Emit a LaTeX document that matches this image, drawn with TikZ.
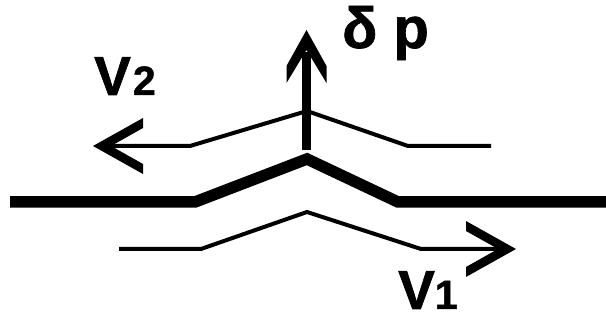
\documentclass[tikz,border=0pt]{standalone}
\usepackage{fontspec}
\setmainfont{Liberation Sans}[BoldFeatures={FakeBold=1.2}]
\tikzset{
  thinline/.style={line width=4pt, line join=miter, line cap=butt},
  thickline/.style={line width=11.5pt, line join=miter, line cap=butt},
  shaft/.style={line width=8.5pt, line cap=butt},
  chevh/.pic={\fill (0,0) -- (50,-28) -- (50,-18) -- (18,0) -- (50,18) -- (50,28) -- cycle;},
  chevv/.pic={\fill (0,0) -- (-20,36) -- (-20,53) -- (0,20) -- (20,53) -- (20,36) -- cycle;},
  lbl/.style={inner sep=0pt, anchor=base west, font=\bfseries\fontsize{55}{55}\selectfont},
}
\begin{document}
\begin{tikzpicture}[x=1pt,y=-1pt]
\useasboundingbox[fill=white] (0,0) rectangle (606,320);
% thick membrane line
\coordinate (tL) at (10,202);
\coordinate (tB1) at (195,202);
\coordinate (tP) at (307,159);
\coordinate (tB2) at (398,202);
\coordinate (tR) at (606,202);
\draw[thickline] (tL) -- (tB1) -- (tP) -- (tB2) -- (tR);
% upper flow line (V2)
\coordinate (uTip) at (93,146);
\coordinate (uN) at (110,146);
\coordinate (uB1) at (190,146);
\coordinate (uP) at (307,111);
\coordinate (uB2) at (408,146);
\coordinate (uE) at (491,146);
\draw[thinline] (uE) -- (uB2) -- (uP) -- (uB1) -- (uN);
\pic at (uTip) {chevh};
% lower flow line (V1)
\coordinate (lS) at (119,249);
\coordinate (lB1) at (201,249);
\coordinate (lP) at (307,212);
\coordinate (lB2) at (421,249);
\coordinate (lN) at (498,249);
\coordinate (lTip) at (516,249);
\draw[thinline] (lS) -- (lB1) -- (lP) -- (lB2) -- (lN);
\pic[rotate=180] at (lTip) {chevh};
% delta p arrow
\coordinate (aB) at (306.5,150);
\coordinate (aN) at (306.5,52);
\coordinate (aTip) at (306.5,30);
\draw[shaft] (aB) -- (aN);
\pic at (aTip) {chevv};
% labels
\node[lbl, font=\bfseries\fontsize{58}{58}\selectfont] (dp) at (342,48) {δ p};
\node[lbl] (v2) at (94,95) {V\kern2pt{\fontsize{41}{41}\selectfont 2}};
\node[lbl] (v1) at (398,309) {V{\fontsize{41}{41}\selectfont 1}};
\end{tikzpicture}
\end{document}
